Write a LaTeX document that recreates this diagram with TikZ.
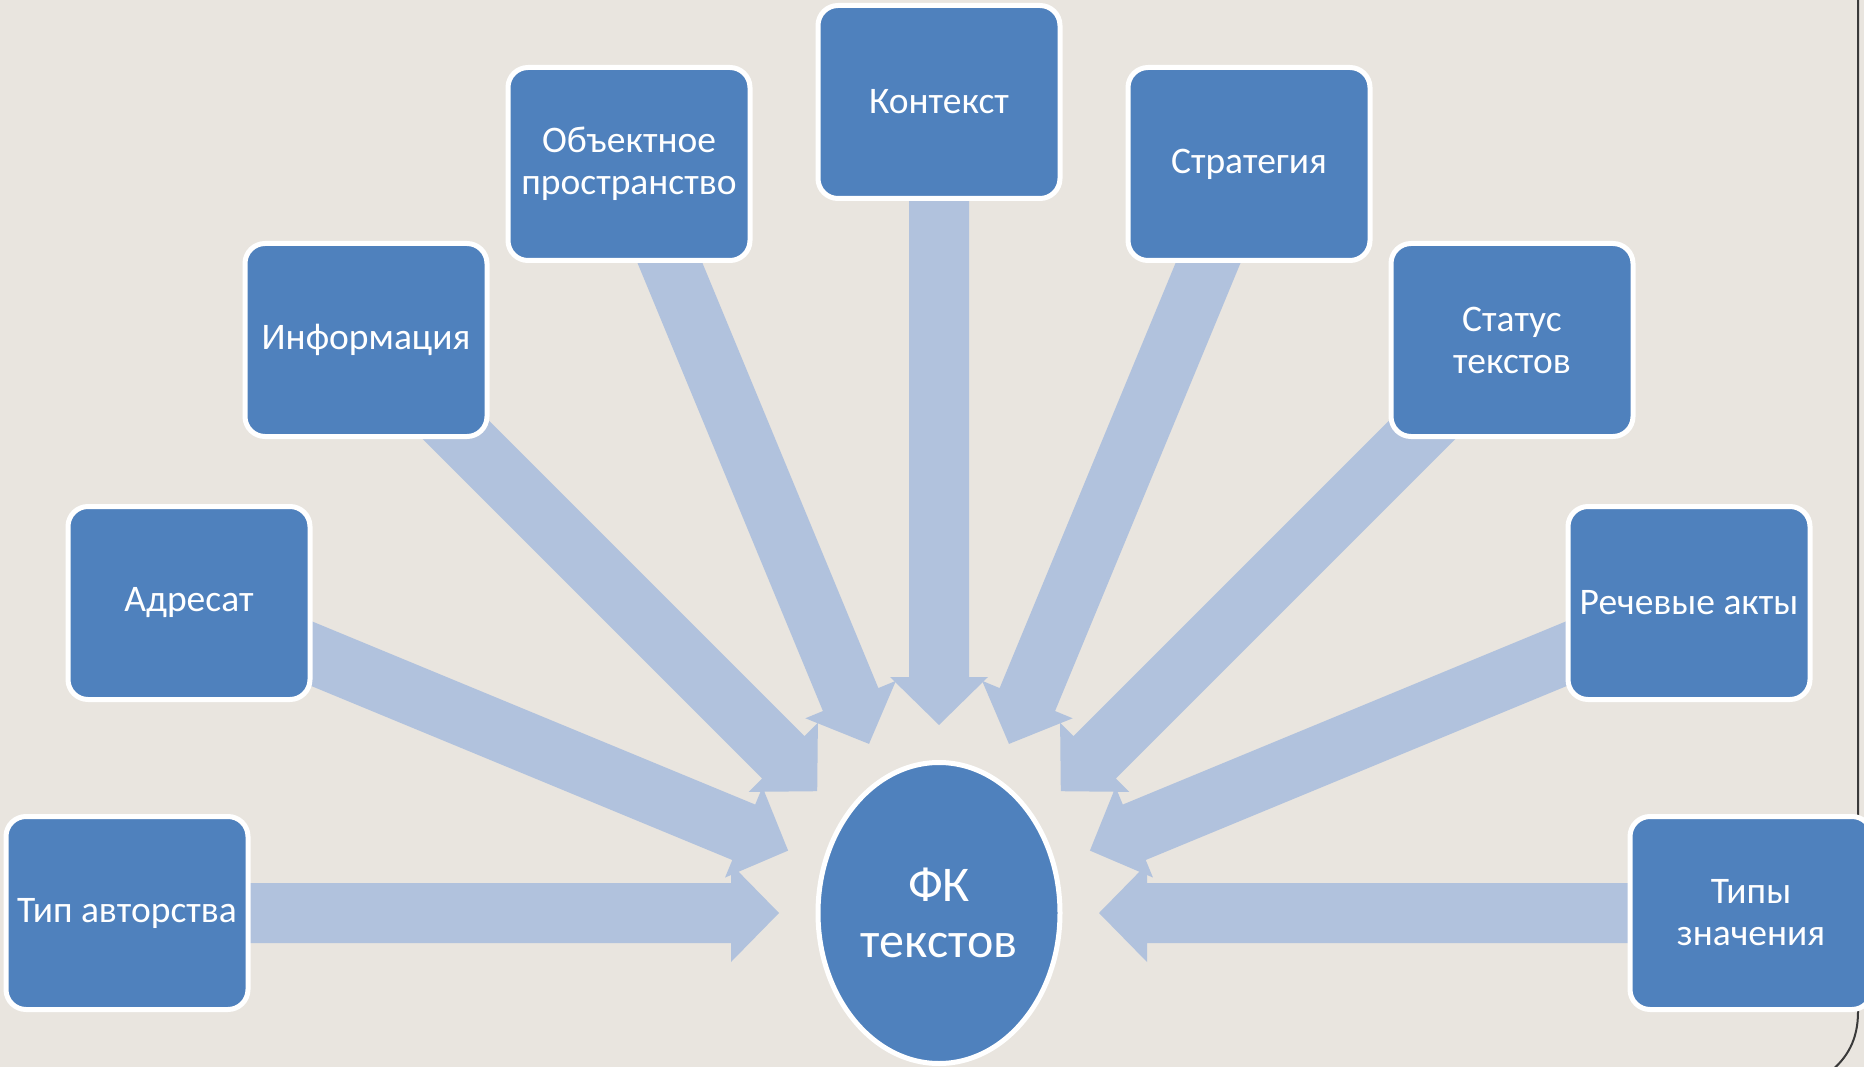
\documentclass[tikz,border=0pt]{standalone}
\usepackage{fontspec}
\setmainfont{Carlito}
\usetikzlibrary{calc,shapes.geometric}
\definecolor{bgc}{HTML}{E9E5DF}
\definecolor{boxc}{HTML}{4F81BD}
\definecolor{arrc}{HTML}{B1C2DD}
\definecolor{framec}{HTML}{3A3A3A}
\pgfdeclarelayer{bglayer}
\pgfdeclarelayer{arrlayer}
\pgfsetlayers{bglayer,arrlayer,main}
\newcommand\blockarrow[2]{%
  \coordinate (hb) at ($(#2)!48pt!(#1.center)$);
  \fill[arrc] (#2)
    -- ($(hb)!49pt!90:(#2)$) -- ($(hb)!30pt!90:(#2)$)
    -- ($(#1.center)!30pt!90:(#2)$) -- ($(#1.center)!30pt!-90:(#2)$)
    -- ($(hb)!30pt!-90:(#2)$) -- ($(hb)!49pt!-90:(#2)$) -- cycle;
}
\tikzset{
  topic/.style={rectangle, rounded corners=20pt, fill=boxc, draw=white,
    line width=5pt, minimum width=242pt, minimum height=193pt, inner sep=1pt,
    text=white, align=center, font=\fontsize{37.5}{42}\selectfont},
  hub/.style={ellipse, fill=boxc, draw=white, line width=5pt,
    minimum width=242pt, minimum height=301pt, inner sep=0pt,
    text=white, align=center, font=\fontsize{50}{56}\selectfont},
}
\begin{document}
\begin{tikzpicture}[x=1pt,y=-1pt]
\useasboundingbox (0,0) rectangle (1864,1067);
\clip (0,0) rectangle (1864,1067);
\begin{pgfonlayer}{bglayer}
  \fill[bgc] (0,0) rectangle (1864,1067);
\end{pgfonlayer}

\node[hub] (fk) at (939,913) {ФК\\текстов};

\node[topic] (b1) at (127,913) {Тип авторства};
\node[topic] (b2) at (189,603) {Адресат};
\node[topic] (b3) at (366,340) {Информация};
\node[topic] (b4) at (629,164) {Объектное\\пространство};
\node[topic] (b5) at (939,102) {Контекст};
\node[topic] (b6) at (1249,164) {Стратегия};
\node[topic] (b7) at (1512,340) {Статус\\текстов};
\node[topic] (b8) at (1689,603) {Речевые акты};
\node[topic] (b9) at (1751,913) {Типы\\значения};

\coordinate (t1) at (779,913);
\coordinate (t2) at (788.1,850.6);
\coordinate (t3) at (817.2,791.2);
\coordinate (t4) at (869.0,743.9);
\coordinate (t5) at (939,725);
\coordinate (t6) at (1009.0,743.9);
\coordinate (t7) at (1060.8,791.2);
\coordinate (t8) at (1089.9,850.6);
\coordinate (t9) at (1099,913);

\begin{pgfonlayer}{arrlayer}
  \blockarrow{b1}{t1}
  \blockarrow{b2}{t2}
  \blockarrow{b3}{t3}
  \blockarrow{b4}{t4}
  \blockarrow{b5}{t5}
  \blockarrow{b6}{t6}
  \blockarrow{b7}{t7}
  \blockarrow{b8}{t8}
  \blockarrow{b9}{t9}
  \draw[framec, line width=2pt] (1858,-5) -- (1858,1012)
    .. controls (1858,1040) and (1847,1058) .. (1830,1072);
\end{pgfonlayer}
\end{tikzpicture}
\end{document}
